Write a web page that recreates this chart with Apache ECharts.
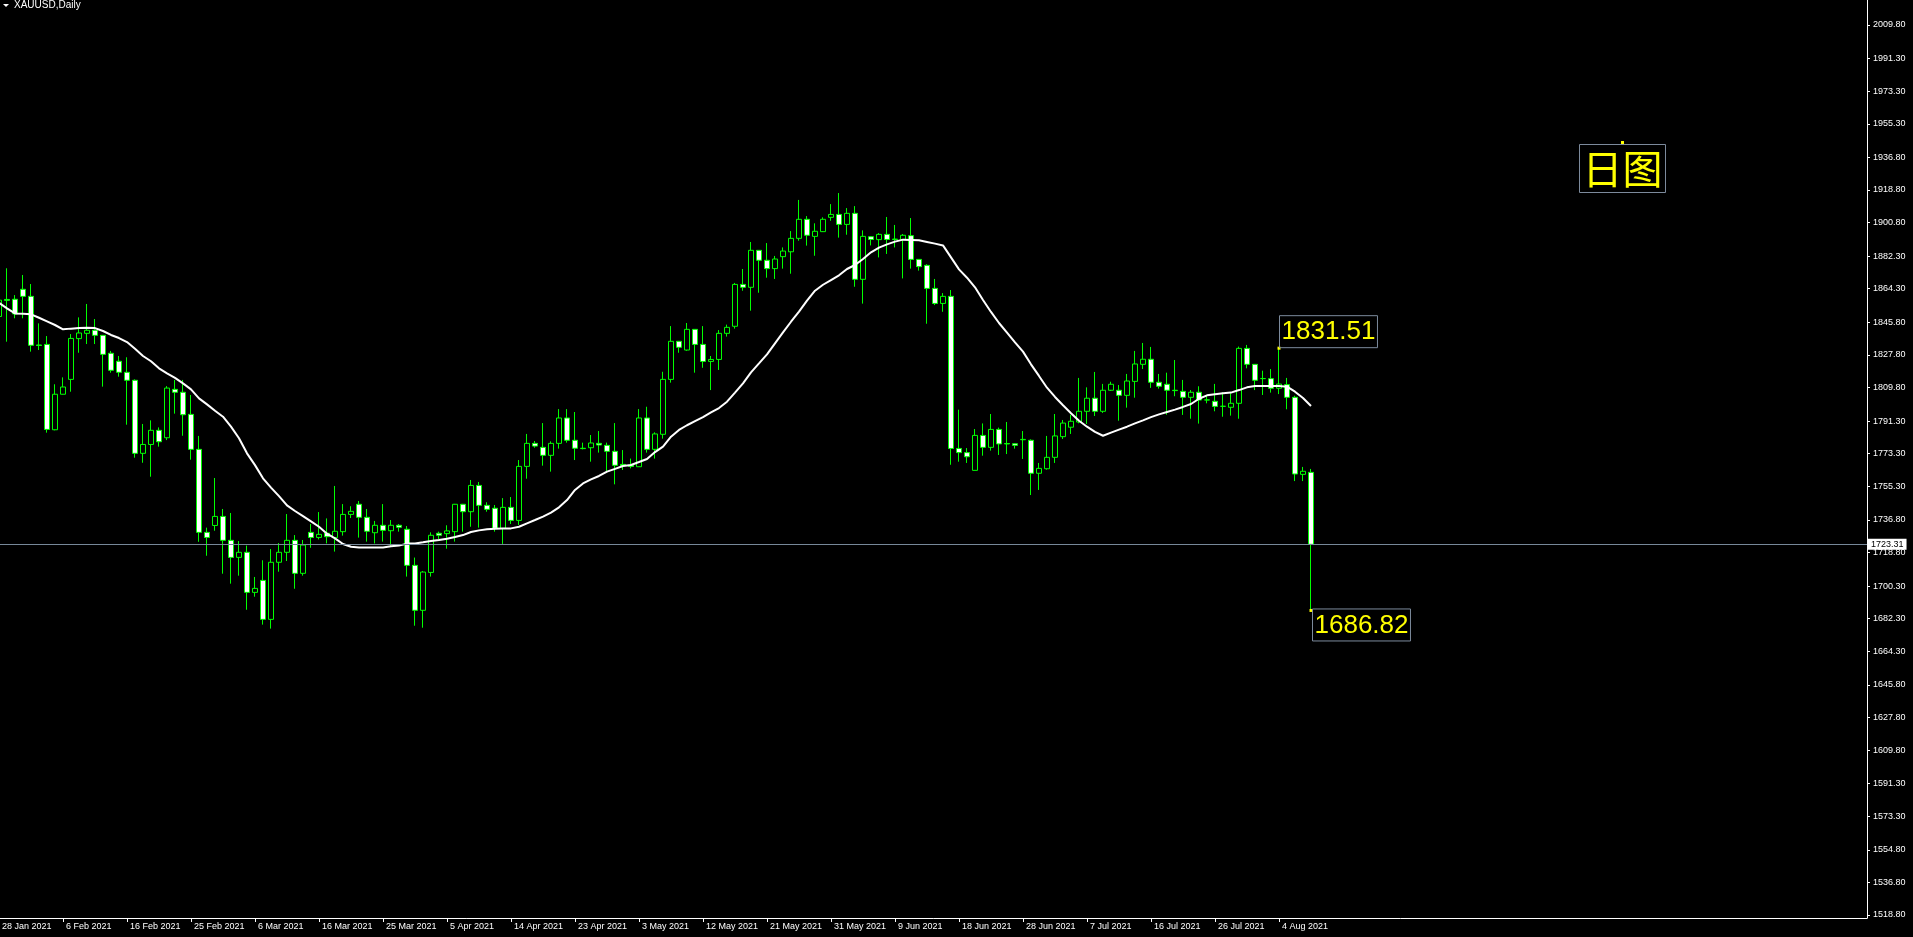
<!DOCTYPE html>
<html><head><meta charset="utf-8">
<script src="https://cdn.jsdelivr.net/npm/echarts@6/dist/echarts.min.js"></script>
<style>html,body{margin:0;padding:0;background:#000;overflow:hidden}#c{width:1913px;height:937px}</style>
</head><body><div id="c"></div>
<script>
// ---- trading days (Mon-Sat sessions, Good Friday closed) ----
const tradingDays = [
  ['Jan', [28,29,30]],
  ['Feb', [1,2,3,4,5,6,8,9,10,11,12,13,15,16,17,18,19,20,22,23,24,25,26,27]],
  ['Mar', [1,2,3,4,5,6,8,9,10,11,12,13,15,16,17,18,19,20,22,23,24,25,26,27,29,30,31]],
  ['Apr', [1,3,5,6,7,8,9,10,12,13,14,15,16,17,19,20,21,22,23,24,26,27,28,29,30]],
  ['May', [1,3,4,5,6,7,8,10,11,12,13,14,15,17,18,19,20,21,22,24,25,26,27,28,29,31]],
  ['Jun', [1,2,3,4,5,7,8,9,10,11,12,14,15,16,17,18,19,21,22,23,24,25,26,28,29,30]],
  ['Jul', [1,2,3,5,6,7,8,9,10,12,13,14,15,16,17,19,20,21,22,23,24,26,27,28,29,30,31]],
  ['Aug', [2,3,4,5,6,7,9]]
];
const opens = [1849,1858.4,1858.5,1864.0,1860.1,1833.3,1833.6,1786.5,1806.1,1814.3,
1836.8,1839.7,1841.4,1838.6,1828.7,1824.3,1818.2,1813.8,1773.5,1778.4,
1786.2,1782.1,1808.8,1807.2,1795.0,1775.7,1729.9,1733.7,1738.7,1725.5,
1716.1,1718.9,1696.8,1703.4,1681.9,1713.4,1718.9,1725.5,1707.3,1729.9,
1727.1,1729.4,1727.0,1730.3,1739.8,1745.4,1738.2,1729.7,1733.8,1730.8,
1733.8,1731.6,1711.7,1686.9,1707.8,1729.4,1729.2,1730.3,1745.4,1741.3,
1755.8,1744.8,1743.2,1732.1,1743.7,1736.5,1766.3,1779.0,1776.8,1772.4,
1779.0,1793.0,1780.7,1776.3,1776.6,1779.0,1777.9,1774.6,1767.4,1766.9,
1766.1,1793.0,1775.7,1784.0,1814.3,1835.3,1830.5,1841.9,1833.6,1824.2,
1825.3,1839.7,1843.6,1866.7,1865.1,1885.5,1880.0,1875.4,1882.0,1884.7,
1892.1,1902.6,1893.2,1895.8,1903.7,1905.3,1899.8,1905.9,1869.5,1893.0,
1891.4,1894.3,1891.7,1891.5,1893.6,1880.5,1877.2,1864.5,1856.2,1860.1,
1776.2,1773.9,1764.1,1783.4,1776.8,1786.7,1778.9,1778.8,1781.0,1780.7,
1762.5,1765.0,1771.3,1782.7,1787.9,1790.8,1796.7,1803.9,1796.7,1808.3,
1808.3,1805.5,1813.2,1822.6,1825.4,1812.7,1811.6,1808.3,1807.7,1804.4,
1807.2,1802.9,1802.2,1799.4,1798.9,1801.1,1831.4,1822.6,1814.7,1814.7,
1809.4,1811.4,1804.4,1761.9,1763.0];
const highs = [1866,1875.6,1860.8,1871.9,1866.9,1845.2,1838.2,1811.6,1815.4,1839.3,
1848.5,1855.9,1847.6,1838.6,1830.0,1827.2,1826.5,1814.3,1789.7,1791.7,
1787.8,1810.6,1814.0,1814.0,1805.7,1783.1,1732.5,1759.9,1742.8,1740.6,
1725.1,1722.6,1705.3,1714.5,1720.7,1724.0,1740.0,1728.4,1725.7,1734.5,
1741.1,1737.6,1755.5,1745.5,1744.3,1747.2,1742.8,1736.2,1745.5,1736.7,
1734.5,1733.4,1716.0,1708.6,1729.9,1730.3,1733.8,1745.6,1745.6,1758.8,
1757.7,1746.5,1745.0,1748.8,1749.4,1769.8,1784.2,1780.3,1790.2,1780.1,
1797.9,1797.9,1796.3,1779.4,1783.6,1785.8,1779.4,1790.2,1775.3,1770.6,
1797.9,1799.2,1785.1,1818.5,1843.7,1835.5,1845.4,1842.0,1843.7,1827.2,
1841.5,1844.5,1867.5,1875.2,1890.1,1885.6,1889.5,1882.4,1887.1,1896.1,
1913.3,1904.4,1900.4,1903.7,1911.0,1917.1,1908.8,1909.9,1896.5,1893.2,
1895.0,1903.9,1899.5,1894.5,1903.3,1880.6,1877.8,1869.7,1861.9,1863.6,
1797.6,1776.4,1786.9,1790.0,1795.2,1787.7,1790.8,1779.2,1785.8,1781.2,
1768.2,1783.1,1795.2,1791.9,1794.7,1815.1,1809.9,1818.4,1811.8,1813.0,
1811.2,1817.3,1830.0,1834.4,1832.2,1817.3,1818.0,1825.0,1814.0,1808.4,
1810.5,1805.5,1811.8,1807.2,1806.6,1832.4,1833.3,1822.7,1819.1,1820.0,
1831.51,1815.1,1805.3,1766.0,1764.9];
const lows = [1843,1835.1,1848.0,1848.0,1829.6,1830.5,1784.9,1786.2,1806.0,1807.5,
1829.0,1833.8,1833.8,1810.3,1818.0,1815.8,1789.3,1771.1,1768.3,1760.6,
1777.2,1780.8,1795.4,1783.2,1770.0,1724.7,1717.0,1730.8,1707.1,1701.6,
1706.0,1687.2,1694.4,1679.0,1676.8,1708.2,1714.1,1698.8,1706.0,1721.4,
1726.0,1723.8,1719.3,1728.1,1737.8,1727.0,1724.8,1723.8,1724.8,1722.4,
1730.3,1705.5,1678.4,1677.3,1705.5,1726.1,1720.9,1724.8,1730.3,1733.0,
1732.5,1741.3,1730.3,1723.5,1734.5,1734.0,1759.5,1776.6,1766.7,1763.4,
1776.1,1779.4,1769.8,1775.7,1768.9,1773.9,1763.7,1756.4,1764.3,1765.2,
1766.1,1773.9,1770.6,1781.6,1812.5,1829.0,1830.1,1818.0,1820.7,1808.4,
1819.5,1837.9,1842.3,1863.2,1852.2,1862.1,1870.4,1869.7,1875.4,1872.6,
1890.8,1888.1,1882.5,1895.6,1901.8,1892.5,1894.1,1865.4,1856.1,1888.2,
1881.6,1883.5,1887.1,1870.0,1875.4,1874.3,1845.0,1855.3,1851.6,1767.2,
1768.9,1768.2,1764.1,1772.2,1775.0,1772.6,1773.1,1776.1,1770.4,1750.5,
1753.3,1764.5,1768.2,1781.4,1784.2,1790.1,1789.7,1794.1,1795.8,1807.9,
1791.5,1798.7,1804.2,1820.0,1809.6,1809.2,1794.8,1805.0,1794.7,1792.6,
1789.9,1801.1,1796.7,1793.7,1794.3,1792.6,1820.4,1808.4,1805.7,1807.0,
1806.2,1797.8,1758.2,1758.2,1686.82];
const closes = [1858,1857.9,1850.4,1860.1,1833.1,1833.0,1786.7,1806.1,1810.1,1836.9,
1839.9,1841.4,1838.6,1828.1,1819.3,1818.2,1813.8,1773.5,1778.4,1786.2,
1779.9,1809.5,1807.2,1794.8,1775.7,1729.9,1727.1,1738.7,1725.5,1716.1,
1718.9,1696.8,1699.0,1681.9,1713.4,1718.9,1725.5,1707.3,1722.9,1727.1,
1728.8,1727.5,1730.5,1739.8,1741.5,1738.2,1730.5,1733.8,1731.0,1733.8,
1732.7,1711.7,1686.9,1708.0,1728.3,1728.3,1730.7,1745.4,1741.3,1755.8,
1744.8,1742.6,1732.1,1743.7,1736.5,1766.3,1779.0,1777.5,1772.4,1779.0,
1793.0,1780.7,1776.3,1776.1,1779.2,1778.1,1774.6,1766.9,1766.7,1766.3,
1793.0,1775.7,1784.2,1814.3,1835.3,1832.0,1841.9,1833.6,1824.2,1825.3,
1839.7,1843.0,1866.7,1865.1,1885.5,1880.0,1875.4,1880.7,1885.1,1892.1,
1902.6,1893.8,1896.0,1902.6,1905.3,1899.8,1905.9,1869.5,1893.2,1891.5,
1894.3,1891.5,1891.5,1893.8,1880.5,1876.5,1864.5,1856.2,1860.1,1776.2,
1773.9,1771.6,1783.4,1776.8,1786.7,1778.7,1778.7,1777.9,1781.2,1762.5,
1765.2,1771.3,1783.1,1790.2,1791.2,1796.7,1803.9,1796.7,1808.3,1811.6,
1805.5,1813.4,1822.8,1825.4,1812.7,1810.5,1808.3,1808.1,1804.4,1807.2,
1802.9,1803.0,1799.4,1799.5,1801.1,1831.4,1822.6,1813.8,1814.8,1809.4,
1811.7,1804.4,1762.1,1763.6,1723.31];
const maValues = [1856.6,1853.5,1850.7,1850.5,1850.2,1848.3,1846.3,1844.3,1841.9,1842.3,
1842.6,1842.8,1842.6,1841.0,1838.8,1837.1,1834.9,1831.2,1827.2,1824.3,
1820.4,1817.6,1815.1,1812.1,1808.8,1803.8,1800.5,1797.0,1793.7,1788.2,
1781.8,1773.5,1767.0,1759.7,1754.6,1749.9,1744.8,1741.7,1738.9,1736.0,
1733.0,1729.2,1726.6,1723.5,1722.0,1721.5,1721.5,1721.5,1721.6,1722.2,
1722.6,1723.7,1723.8,1724.4,1725.1,1725.7,1726.4,1727.3,1728.4,1730.1,
1731.0,1731.6,1731.9,1732.1,1732.1,1733.0,1734.9,1736.7,1738.6,1740.8,
1743.7,1747.7,1753.3,1756.9,1759.1,1761.0,1763.4,1764.9,1766.5,1767.1,
1768.7,1770.4,1774.2,1777.2,1782.7,1786.4,1789.0,1791.3,1793.5,1796.1,
1798.5,1802.0,1807.0,1812.1,1818.2,1823.1,1828.1,1834.2,1840.2,1846.1,
1851.7,1857.7,1863.2,1866.5,1869.1,1871.7,1875.2,1877.4,1880.7,1884.4,
1887.0,1888.8,1890.3,1891.4,1891.2,1891.0,1890.1,1889.2,1888.2,1881.6,
1875.0,1870.4,1865.1,1858.1,1851.5,1845.4,1840.1,1834.7,1829.6,1822.6,
1816.2,1809.7,1804.6,1800.0,1795.6,1791.5,1788.2,1785.3,1783.2,1784.9,
1786.6,1788.2,1790.0,1791.7,1793.5,1795.0,1796.3,1797.6,1799.1,1800.7,
1803.6,1805.5,1806.1,1806.6,1807.0,1808.4,1809.9,1810.6,1810.6,1810.6,
1810.6,1810.3,1807.5,1804.0,1799.6];
const yTickLabels = [2009.80,1991.30,1973.30,1955.30,1936.80,1918.80,1900.80,1882.30,1864.30,1845.80,
1827.80,1809.80,1791.30,1773.30,1755.30,1736.80,1718.80,1700.30,1682.30,1664.30,1645.80,1627.80,
1609.80,1591.30,1573.30,1554.80,1536.80,1518.80];
const lastPrice = 1723.31;
const highMark = {index: 160, value: 1831.51};
const lowMark = {index: 164, value: 1686.82};
const symbolTitle = 'XAUUSD,Daily';
const noteText = '日图';

// ---- build ----
const dates = [];
tradingDays.forEach(([m, ds]) => ds.forEach(d => dates.push(d + ' ' + m + ' 2021')));
const TOTAL_SLOTS = 234;
const cats = dates.slice();
for (let k = dates.length; k < TOTAL_SLOTS; k++) cats.push('#' + k);
const candleData = opens.map((o, i) => [o, closes[i], lows[i], highs[i]]);
const labelEvery = (i) => i % 8 === 0 && i < dates.length - 1;

const chart = echarts.init(document.getElementById('c'), null, {renderer: 'canvas'});
const axisFont = 'Liberation Sans';
const markLabel = {
  show: true, color: '#ffff00', fontSize: 26, fontFamily: 'Liberation Sans',
  borderColor: '#7c8a9c', borderWidth: 1, padding: [2, 2, 1, 2], lineHeight: 29,
  formatter: p => p.value.toFixed(2)
};
chart.setOption({
  backgroundColor: '#000000',
  animation: false,
  grid: {left: -5, right: 46, top: 0, bottom: 19, containLabel: false, outerBoundsMode: 'none'},
  xAxis: {
    type: 'category', data: cats, boundaryGap: true,
    axisLine: {show: true, lineStyle: {color: '#ffffff', width: 1}},
    axisTick: {show: true, alignWithLabel: true, interval: labelEvery, length: 4, lineStyle: {color: '#ffffff'}},
    axisLabel: {interval: labelEvery, align: 'left', padding: [0, 0, 0, 3], color: '#ffffff',
      fontSize: 9, fontFamily: axisFont, margin: 4},
    splitLine: {show: false}
  },
  yAxis: {
    type: 'value', position: 'right', min: 1517.15, max: 2023.6, scale: true,
    splitLine: {show: false},
    axisLine: {show: true, lineStyle: {color: '#ffffff', width: 1}},
    axisTick: {show: true, customValues: yTickLabels, length: 3, lineStyle: {color: '#ffffff'}},
    axisLabel: {customValues: yTickLabels, formatter: v => v.toFixed(2), color: '#ffffff',
      fontSize: 9, fontFamily: axisFont, margin: 6}
  },
  series: [
    {
      type: 'candlestick', data: candleData, barWidth: 5, silent: true,
      itemStyle: {color: '#000000', color0: '#ffffff', borderColor: '#00ff00', borderColor0: '#00ff00',
        borderColorDoji: '#00ff00', borderWidth: 1},
      markLine: {
        silent: true, animation: false, symbol: ['none', 'none'],
        lineStyle: {color: '#778899', width: 1, type: 'solid'},
        data: [{yAxis: lastPrice}],
        label: {show: true, position: 'end', formatter: () => lastPrice.toFixed(2), color: '#000000',
          backgroundColor: '#ffffff', fontSize: 9, fontFamily: axisFont, padding: [1, 3, 1, 3], distance: 1},
        emphasis: {disabled: true}
      },
      markPoint: {
        silent: true, animation: false, symbol: 'rect', symbolSize: 3,
        itemStyle: {color: '#ffff00'},
        data: [
          {coord: [highMark.index, highMark.value], value: highMark.value,
           label: Object.assign({}, markLabel, {position: [2, 1], align: 'left', verticalAlign: 'bottom'})},
          {coord: [lowMark.index, lowMark.value], value: lowMark.value,
           label: Object.assign({}, markLabel, {position: [3, 0], align: 'left', verticalAlign: 'top'})}
        ]
      }
    },
    {
      type: 'line', data: maValues, showSymbol: false, symbol: 'none', silent: true, z: 3,
      lineStyle: {color: '#ffffff', width: 2}
    }
  ],
  graphic: [
    {type: 'polygon', shape: {points: [[3, 4], [9, 4], [6, 7]]}, style: {fill: '#ffffff'}},
    {type: 'text', left: 14, top: 0, style: {text: symbolTitle, fill: '#ffffff', font: '10px "Liberation Sans"'}},
    {type: 'rect', shape: {x: 1621, y: 141, width: 3, height: 3}, style: {fill: '#ffff00'}},
    {type: 'text', left: 1579, top: 144, style: {text: noteText, fill: '#ffff00',
      font: '40px "Noto Sans CJK SC"', padding: [2, 3, 2, 3], borderColor: '#7c8a9c', borderWidth: 1, lineHeight: 44}}
  ]
});
</script>
</body></html>
